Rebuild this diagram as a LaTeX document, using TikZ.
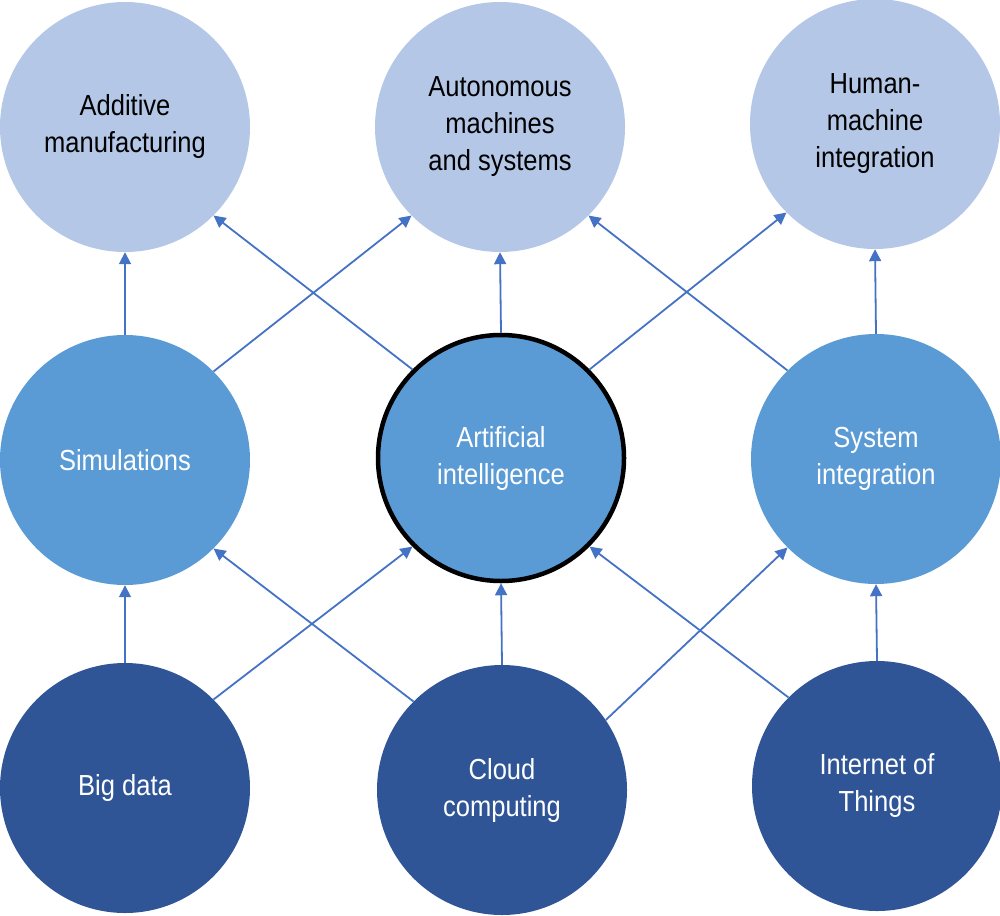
\documentclass[tikz,border=0pt]{standalone}
\usepackage{fontspec}
\setmainfont{Liberation Sans}[FakeStretch=0.88]
\usetikzlibrary{arrows.meta,positioning}
\definecolor{techLight}{HTML}{B4C7E7}
\definecolor{techMid}{HTML}{5B9BD5}
\definecolor{techDark}{HTML}{2F5597}
\definecolor{techLine}{HTML}{4472C4}

\begin{document}
\begin{tikzpicture}[x=1pt, y=-1pt,
  % ── circles per layer ──
  layer/.style={circle, minimum size=250pt, inner sep=0pt, align=center,
                font=\fontsize{29}{37}\selectfont},
  appl/.style={layer, fill=techLight, text=black},
  enab/.style={layer, fill=techMid, text=white},
  base/.style={layer, fill=techDark, text=white},
  % ── arrows ──
  arr/.style={-{Triangle[length=12pt,width=12pt]}, line width=1.8pt, techLine},
]

%% ─── frame ──────────────────────────────────────────────────────
\useasboundingbox (0,0) rectangle (1000,915);

%% ─── 1. Top row: applications ──────────────────────────────────
\node[appl] (addMfg)  at (125,127) {Additive\\manufacturing};
\node[appl] (autoSys) at (500,127) {Autonomous\\machines\\and systems};
\node[appl] (hmi)     at (875,124) {Human-\\machine\\integration};

%% ─── 2. Middle row: enablers ───────────────────────────────────
\node[enab] (sim)    at (125,460) {Simulations};
\node[enab, draw=black, line width=4.5pt, minimum size=246pt] (ai)
      at (501,458) {Artificial\\intelligence};
\node[enab] (sysInt) at (876,459) {System\\integration};

%% ─── 3. Bottom row: foundations ────────────────────────────────
\node[base] (bigData) at (125,788) {Big data};
\node[base] (cloud)   at (502,790) {Cloud\\computing};
\node[base] (iot)     at (877,786) {Internet of\\Things};

%% ─── 4. Connections ────────────────────────────────────────────
% straight up
\foreach \src/\dst in {bigData/sim, cloud/ai, iot/sysInt,
                       sim/addMfg, ai/autoSys, sysInt/hmi}{
  \draw[arr] (\src.north) -- (\dst.south);
}
% diagonal up-right
\foreach \src/\dst in {bigData/ai, sim/autoSys, ai/hmi}{
  \draw[arr] (\src.north east) -- (\dst.south west);
}
\draw[arr] (cloud.34) -- (sysInt.south west);
% diagonal up-left
\foreach \src/\dst in {cloud/sim, iot/ai, ai/addMfg, sysInt/autoSys}{
  \draw[arr] (\src.north west) -- (\dst.south east);
}

\end{tikzpicture}
\end{document}
